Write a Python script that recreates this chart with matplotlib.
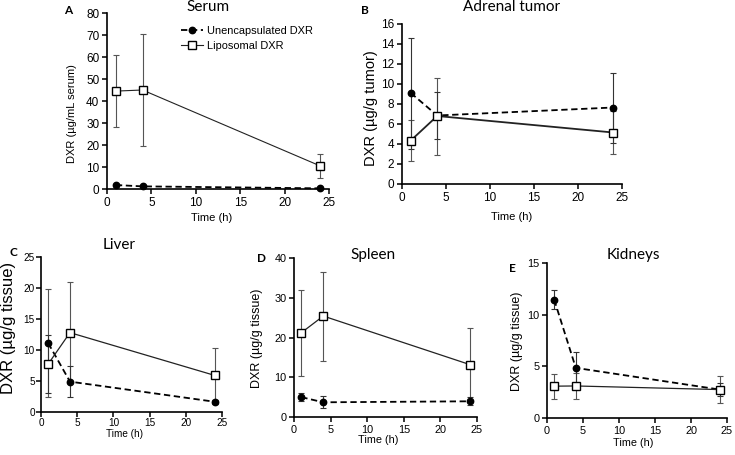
import numpy as np
import matplotlib.pyplot as plt

plt.rcParams['font.family'] = ['Liberation Sans', 'DejaVu Sans']

# sampling times (h)
time = [1, 4, 24]

# A - serum (ug/mL)
unenc_A = [1.8, 1.2, 0.3]
unenc_A_err = [0.5, 0.3, 0.2]
lipo_A = [44.5, 45.0, 10.5]
lipo_A_err = [16.5, 25.5, 5.4]

# B - adrenal tumor (ug/g)
unenc_B = [9.1, 6.85, 7.65]
unenc_B_err = [5.55, 2.35, 3.5]
lipo_B = [4.35, 6.8, 5.15]
lipo_B_err = [2.05, 3.85, 2.15]

# C - liver (ug/g), asymmetric bars as drawn
unenc_C = [11.1, 4.9, 1.65]
unenc_C_lo = [8.1, 2.45, 0.3]
unenc_C_hi = [1.35, 2.45, 0.3]
lipo_C = [7.75, 12.8, 5.9]
lipo_C_lo = [5.3, 8.1, 4.35]
lipo_C_hi = [12.15, 8.1, 4.35]

# D - spleen (ug/g)
unenc_D = [5.0, 3.7, 3.95]
unenc_D_err = [1.1, 1.5, 1.0]
lipo_D = [21.2, 25.4, 13.2]
lipo_D_err = [10.8, 11.2, 9.1]

# E - kidneys (ug/g)
unenc_E = [11.45, 4.85, 2.75]
unenc_E_err = [0.9, 1.5, 0.6]
lipo_E = [3.08, 3.1, 2.75]
lipo_E_err = [1.2, 1.25, 1.3]

W, H = 735, 455
fig = plt.figure(figsize=(W / 100, H / 100), dpi=100)


def px_axes(x0, y0, x1, y1):
    return fig.add_axes([x0 / W, 1 - y1 / H, (x1 - x0) / W, (y1 - y0) / H])


def draw(ax, unenc, unenc_err, lipo, lipo_err, ymax, ystep, tsize, lw_l=0.9, pad=2):
    ax.errorbar(time, lipo, yerr=lipo_err, fmt='none', ecolor='#555555',
                elinewidth=0.8, capsize=2.5, capthick=0.8, clip_on=False, zorder=2)
    ax.errorbar(time, unenc, yerr=unenc_err, fmt='none', ecolor='#333333',
                elinewidth=0.8, capsize=2.5, capthick=0.8, clip_on=False, zorder=2)
    ax.plot(time, lipo, '-', color='#222222', lw=lw_l, marker='s', ms=5.8,
            mfc='white', mec='black', mew=1.0, clip_on=False, zorder=4,
            label='Liposomal DXR')
    ax.plot(time, unenc, '--', color='black', lw=1.3, dashes=(3.5, 2),
            marker='o', ms=4.6, mfc='black', mec='black', clip_on=False, zorder=3,
            label='Unencapsulated DXR')
    ax.set_xlim(0, 25)
    ax.set_ylim(0, ymax)
    ax.set_xticks(np.arange(0, 26, 5))
    ax.set_yticks(np.arange(0, ymax + 0.1, ystep))
    for s in ['top', 'right']:
        ax.spines[s].set_visible(False)
    for s in ['left', 'bottom']:
        ax.spines[s].set_linewidth(1.2)
    ax.tick_params(direction='out', length=3.5, width=1.1, labelsize=tsize, pad=pad)


axA = px_axes(107, 13, 329, 189)
draw(axA, unenc_A, unenc_A_err, lipo_A, lipo_A_err, 80, 10, 8.5, lw_l=0.8)
axB = px_axes(402, 24, 622, 184)
draw(axB, unenc_B, unenc_B_err, lipo_B, lipo_B_err, 16, 2, 8.5, lw_l=1.3)
axC = px_axes(41, 257, 222, 412)
draw(axC, unenc_C, [unenc_C_lo, unenc_C_hi], lipo_C, [lipo_C_lo, lipo_C_hi], 25, 5, 7.2,
     pad=1)
axD = px_axes(294, 258, 477, 417)
draw(axD, unenc_D, unenc_D_err, lipo_D, lipo_D_err, 40, 10, 7.8)
axE = px_axes(547, 263, 727, 418)
draw(axE, unenc_E, unenc_E_err, lipo_E, lipo_E_err, 15, 5, 7.8)

# legend in panel A
h, l = axA.get_legend_handles_labels()
axA.legend(h[::-1], l[::-1], loc='upper left', bbox_to_anchor=(0.315, 0.95),
           frameon=False, fontsize=7.9, handlelength=2.0, handletextpad=0.3,
           labelspacing=0.45, borderaxespad=0)

panels = [
    (axA, 'Serum', 0.455, 1.034, 'DXR (µg/mL serum)', 8.0, -0.158, 0.426, 0.473, -0.165, 8.0),
    (axB, 'Adrenal tumor', 0.5, 1.106, 'DXR (µg/g tumor)', 10.5, -0.141, 0.475, 0.5, -0.206, 8.0),
    (axC, 'Liver', 0.43, 1.077, 'DXR (µg/g tissue)', 12.0, -0.182, 0.545, 0.464, -0.14, 7.2),
    (axD, 'Spleen', 0.43, 1.019, 'DXR (µg/g tissue)', 9.0, -0.202, 0.497, 0.46, -0.145, 7.8),
    (axE, 'Kidneys', 0.48, 1.05, 'DXR (µg/g tissue)', 9.0, -0.167, 0.497, 0.478, -0.161, 7.8),
]
for ax, title, tx, ty, ylab, ys, yx, yy, xx, xy, xs in panels:
    ax.text(tx, ty, title, transform=ax.transAxes, ha='center', va='center',
            fontsize=11, family=['Lato', 'DejaVu Sans'])
    ax.text(yx, yy, ylab, transform=ax.transAxes, ha='center', va='center',
            rotation=90, fontsize=ys)
    ax.text(xx, xy, 'Time (h)', transform=ax.transAxes, ha='center', va='center',
            fontsize=xs)

# panel letters
for letter, x, y in [('A', 68, 10), ('B', 365, 10), ('C', 13, 252),
                     ('D', 261, 259), ('E', 512, 268)]:
    fig.text(x / W, 1 - y / H, letter, ha='center', va='center', fontsize=8.5,
             fontweight='bold', family=['Lato', 'DejaVu Sans'])

fig.savefig('out.png', dpi=100)
